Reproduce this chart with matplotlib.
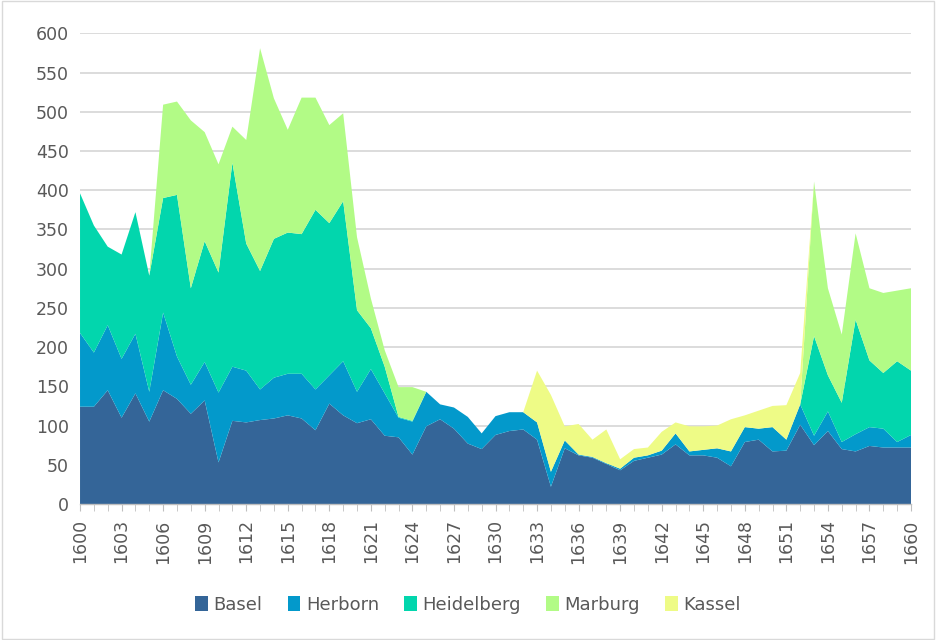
import matplotlib
matplotlib.use("Agg")
import matplotlib.pyplot as plt
import numpy as np
from matplotlib.patches import Rectangle

years = list(range(1600, 1661))

basel = [124, 124, 145, 110, 141, 105, 145, 134, 115, 132,
         53, 106, 104, 107, 109, 113, 109, 94, 128, 113,
         103, 108, 87, 85, 63, 99, 108, 96, 77, 70,
         88, 93, 95, 82, 22, 71, 62, 59, 51, 43,
         55, 59, 63, 76, 62, 62, 59, 48, 79, 82,
         67, 68, 101, 75, 93, 70, 67, 74, 72, 72,
         72]

herborn = [94, 69, 83, 75, 76, 38, 99, 54, 37, 49,
           89, 69, 66, 39, 52, 53, 57, 52, 36, 69,
           40, 64, 54, 25, 42, 44, 19, 27, 34, 20,
           24, 24, 22, 22, 19, 10, 1, 1, 1, 2,
           4, 3, 5, 14, 5, 7, 12, 19, 19, 14,
           31, 14, 26, 12, 25, 9, 22, 24, 24, 7,
           16]

heidelberg = [178, 162, 100, 133, 155, 148, 146, 206, 123, 154,
              153, 260, 162, 151, 177, 180, 178, 229, 194, 204,
              104, 52, 34, 1, 1, 0, 0, 0, 0, 0,
              0, 0, 0, 0, 0, 0, 0, 0, 0, 0,
              0, 0, 0, 0, 0, 0, 0, 0, 0, 0,
              0, 0, 0, 127, 46, 50, 146, 85, 71, 103,
              82]

marburg = [0, 0, 0, 0, 0, 0, 119, 119, 214, 139,
           138, 46, 132, 284, 179, 131, 174, 143, 125, 112,
           93, 38, 21, 38, 43, 0, 0, 0, 0, 0,
           0, 0, 0, 0, 0, 0, 0, 0, 0, 0,
           0, 0, 0, 0, 0, 0, 0, 0, 0, 0,
           0, 0, 0, 197, 111, 87, 110, 92, 102, 90,
           105]

kassel = [0, 0, 0, 0, 0, 0, 0, 0, 0, 0,
          0, 0, 0, 0, 0, 0, 0, 0, 0, 0,
          0, 0, 0, 0, 0, 0, 0, 0, 0, 0,
          0, 0, 0, 66, 98, 18, 39, 22, 43, 12,
          11, 10, 24, 14, 32, 30, 29, 41, 15, 23,
          27, 44, 40, 0, 0, 0, 0, 0, 0, 0,
          0]

series_names = ["Basel", "Herborn", "Heidelberg", "Marburg", "Kassel"]
colors = ["#346598", "#0399CB", "#02D6AD", "#B2FB86", "#EEFB86"]

fig = plt.figure(figsize=(9.36, 6.4), dpi=100)
ax = fig.add_axes([0.0855, 0.2125, 0.8878, 0.7355])

ax.stackplot(years, basel, herborn, heidelberg, marburg, kassel,
             colors=colors, labels=series_names, linewidth=0)

ax.set_xlim(1600, 1660)
ax.set_ylim(0, 600)
ax.set_yticks(range(0, 601, 50))
ax.yaxis.grid(True, color="#D9D9D9", linewidth=1.3)
ax.set_axisbelow(True)

ax.set_xticks(range(1600, 1661, 3))
ax.set_xticks(years, minor=True)
ax.tick_params(axis="x", which="major", labelrotation=90, length=5,
               color="#BFBFBF", labelsize=12.5, labelcolor="#595959", pad=6)
ax.tick_params(axis="x", which="minor", length=5, color="#BFBFBF")
ax.tick_params(axis="y", length=0, labelsize=12.5, labelcolor="#595959", pad=8)

for s in ["top", "right", "left"]:
    ax.spines[s].set_visible(False)
ax.spines["bottom"].set_color("#BFBFBF")
ax.spines["bottom"].set_linewidth(1.0)

leg = fig.legend(loc="center", bbox_to_anchor=(0.5, 0.055), ncol=5, frameon=False,
                 fontsize=13, handlelength=0.7, handleheight=0.9, handletextpad=0.3,
                 columnspacing=1.4)
for t in leg.get_texts():
    t.set_color("#595959")

fig.patches.append(Rectangle((0.002, 0.002), 0.996, 0.996, transform=fig.transFigure,
                             fill=False, edgecolor="#D9D9D9", linewidth=1))

fig.savefig("out.png", dpi=100)
